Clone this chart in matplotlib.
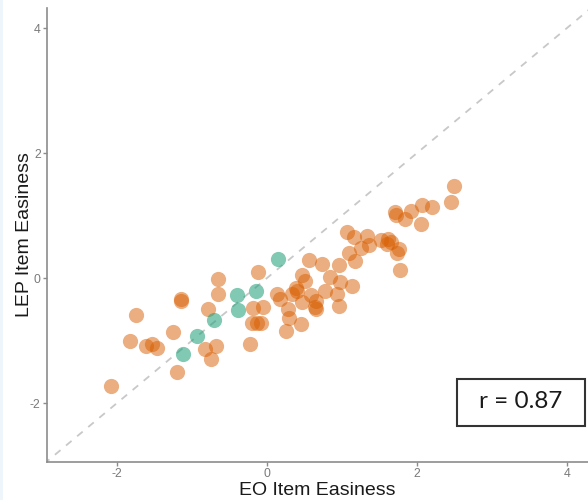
import matplotlib
matplotlib.use("Agg")
import matplotlib.pyplot as plt
from matplotlib.patches import Rectangle

# EO (x) vs LEP (y) item easiness
orange_x = [-2.08, -1.74, -1.83, -1.61, -1.53, -1.47, -1.15, -1.15, -1.25, -1.20,
            -0.65, -0.65, -0.78, -0.82, -0.68, -0.75, -0.22, -0.12, -0.18, -0.05,
            -0.20, -0.13, -0.08, 0.13, 0.17, 0.28, 0.30, 0.25, 0.45, 0.39,
            0.34, 0.40, 0.47, 0.51, 0.56, 0.74, 0.59, 0.47, 0.66, 0.66,
            0.64, 0.84, 0.78, 0.96, 0.98, 1.14, 0.94, 0.96, 1.07, 1.16,
            1.33, 1.36, 1.25, 1.52, 1.62, 1.60, 1.65, 1.76, 1.74, 1.77,
            1.09, 1.18, 2.49, 2.46, 2.07, 2.20, 1.92, 1.71, 1.72, 1.84,
            2.05]
orange_y = [-1.73, -0.59, -1.00, -1.08, -1.06, -1.11, -0.33, -0.37, -0.86, -1.50,
            -0.02, -0.26, -0.50, -1.14, -1.08, -1.30, -1.05, 0.10, -0.48, -0.46,
            -0.71, -0.71, -0.71, -0.26, -0.33, -0.50, -0.63, -0.84, -0.74, -0.15,
            -0.25, -0.20, 0.05, -0.04, 0.29, 0.22, -0.27, -0.38, -0.37, -0.50,
            -0.46, 0.02, -0.21, 0.21, -0.06, -0.12, -0.26, -0.45, 0.74, 0.66,
            0.68, 0.53, 0.49, 0.61, 0.63, 0.54, 0.58, 0.46, 0.40, 0.13,
            0.40, 0.28, 1.47, 1.21, 1.17, 1.14, 1.08, 1.05, 1.01, 0.95,
            0.86]
teal_x = [-1.12, -0.93, -0.70, -0.39, -0.40, -0.15, 0.15]
teal_y = [-1.21, -0.93, -0.67, -0.51, -0.27, -0.21, 0.30]

x_ticks = [-2, 0, 2, 4]
y_ticks = [-2, 0, 2, 4]
r_label = "r = 0.87"

fig = plt.figure(figsize=(5.88, 5.0), dpi=100)
fig.patches.append(Rectangle((0, 0), 3 / 588, 1, transform=fig.transFigure,
                             facecolor="#eef6fb", edgecolor="none", zorder=0))
ax = fig.add_axes([47 / 588, 38 / 500, 1 - 47 / 588, (462 - 8) / 500])
ax.patch.set_alpha(0)

ax.plot([-4, 6], [-4, 6], linestyle=(0, (4, 4)), color="#c8c8c8", lw=1.3, zorder=1)
ax.scatter(orange_x, orange_y, s=120, color="#D95F02", alpha=0.5, linewidths=0, zorder=2)
ax.scatter(teal_x, teal_y, s=120, color="#1B9E77", alpha=0.55, linewidths=0, zorder=3)

ax.set_xlim(-2.93, 4.28)
ax.set_ylim(-2.94, 4.32)
ax.set_xticks(x_ticks)
ax.set_yticks(y_ticks)
ax.set_xticklabels([str(t) for t in x_ticks])
ax.set_yticklabels([str(t) for t in y_ticks])

for side in ("top", "right"):
    ax.spines[side].set_visible(False)
for side in ("left", "bottom"):
    ax.spines[side].set_color("#8c8c8c")
    ax.spines[side].set_linewidth(1.2)
ax.tick_params(axis="both", colors="#8c8c8c", length=3, width=1,
               labelsize=8.8, labelcolor="#7a7a7a", pad=1.5)
for lab in ax.get_xticklabels() + ax.get_yticklabels():
    lab.set_family("Liberation Sans")

ax.set_xlabel("EO Item Easiness", fontsize=14, family="Liberation Sans",
              color="#1a1a1a")
ax.set_ylabel("LEP Item Easiness", fontsize=14, family="Liberation Sans",
              color="#1a1a1a")
ax.xaxis.set_label_coords(0.5, -(482 - 462) / 454)
ax.yaxis.set_label_coords(-(47 - 33) / 541, 0.5)

# r box
fig.patches.append(Rectangle((457 / 588, (500 - 426) / 500), (585 - 457) / 588,
                             (426 - 379) / 500, transform=fig.transFigure,
                             facecolor="white", edgecolor="#333333", lw=1.5, zorder=5))
fig.text(521 / 588, (500 - 402) / 500, r_label, ha="center", va="center",
         fontsize=17.5, family="Lato", color="#1a1a1a", zorder=6)

fig.savefig("out.png", dpi=100)
